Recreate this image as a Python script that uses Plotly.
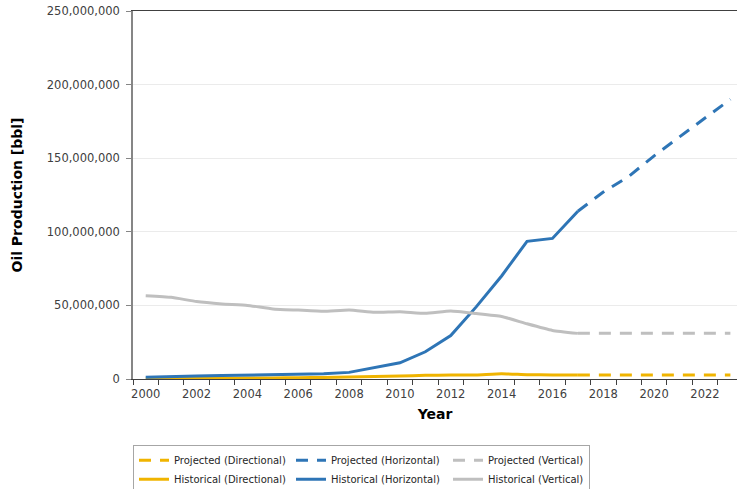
import plotly.graph_objects as go

years_hist = list(range(2000, 2018))
years_proj = list(range(2017, 2024))

hist_directional = [0.2e6, 0.3e6, 0.4e6, 0.5e6, 0.6e6, 0.7e6, 0.9e6, 1.1e6, 1.4e6, 1.7e6,
                    2.0e6, 2.5e6, 2.7e6, 2.8e6, 3.6e6, 2.9e6, 2.8e6, 2.8e6]
hist_horizontal = [1.2e6, 1.8e6, 2.1e6, 2.3e6, 2.7e6, 2.8e6, 3.0e6, 3.5e6, 4.5e6, 7.5e6,
                   11.0e6, 18.5e6, 29.5e6, 49.0e6, 70.0e6, 93.5e6, 95.5e6, 114.0e6]
hist_vertical = [56.6e6, 55.5e6, 52.6e6, 51.0e6, 50.0e6, 47.6e6, 46.8e6, 46.0e6, 46.9e6, 45.3e6,
                 45.7e6, 44.6e6, 46.2e6, 44.5e6, 42.5e6, 37.5e6, 33.0e6, 31.0e6]

proj_directional = [2.8e6, 2.8e6, 2.8e6, 2.8e6, 2.8e6, 2.8e6, 2.8e6]
proj_horizontal = [114.0e6, 127.0e6, 137.6e6, 151.6e6, 164.5e6, 177.5e6, 190.0e6]
proj_vertical = [31.0e6, 31.0e6, 31.0e6, 31.0e6, 31.0e6, 31.0e6, 31.0e6]

x_tick_years = list(range(2000, 2023, 2))
y_tick_vals = [0, 50e6, 100e6, 150e6, 200e6, 250e6]

C_DIR = "#F0B400"
C_HOR = "#2E75B6"
C_VER = "#BFBFBF"
FONT = "DejaVu Sans"
DASH = "12px,9px"

fig = go.Figure()
fig.add_trace(go.Scatter(x=years_proj, y=proj_directional, mode="lines", name="Projected (Directional)",
                         line=dict(color=C_DIR, width=3, dash=DASH)))
fig.add_trace(go.Scatter(x=years_proj, y=proj_horizontal, mode="lines", name="Projected (Horizontal)",
                         line=dict(color=C_HOR, width=3, dash=DASH)))
fig.add_trace(go.Scatter(x=years_proj, y=proj_vertical, mode="lines", name="Projected (Vertical)",
                         line=dict(color=C_VER, width=3, dash=DASH)))
fig.add_trace(go.Scatter(x=years_hist, y=hist_directional, mode="lines", name="Historical (Directional)",
                         line=dict(color=C_DIR, width=3, shape="spline", smoothing=0.4)))
fig.add_trace(go.Scatter(x=years_hist, y=hist_horizontal, mode="lines", name="Historical (Horizontal)",
                         line=dict(color=C_HOR, width=3)))
fig.add_trace(go.Scatter(x=years_hist, y=hist_vertical, mode="lines", name="Historical (Vertical)",
                         line=dict(color=C_VER, width=3, shape="spline", smoothing=0.4)))

fig.update_layout(
    width=737, height=489,
    margin=dict(l=133, r=0, t=11, b=110, autoexpand=False),
    paper_bgcolor="white", plot_bgcolor="white",
    font=dict(family=FONT, size=11.5, color="#404040"),
    showlegend=True,
    legend=dict(orientation="h", x=0, xanchor="left", y=-0.179, yanchor="top",
                bordercolor="#A6A6A6", borderwidth=1, font=dict(size=10, color="#262626"),
                traceorder="normal", itemwidth=30, tracegroupgap=0),
    xaxis=dict(range=[1999.5, 2023.26], tickvals=x_tick_years, ticks="",
               ticklen=0, showgrid=False, zeroline=False, automargin=False,
               showline=True, linecolor="#404040", linewidth=1, mirror=True,
               ticklabelstandoff=4,
               minor=dict(tick0=1999.5, dtick=1, ticks="outside", ticklen=5, tickcolor="#404040", showgrid=False),
               tickfont=dict(size=11.5, color="#404040"),
               title=dict(text="<b>Year</b>", font=dict(size=14, color="#000000"), standoff=9)),
    yaxis=dict(range=[0, 250e6], tickvals=y_tick_vals, tickformat=",d",
               ticks="outside", ticklen=5, tickcolor="#868686", automargin=False,
               ticklabelstandoff=4,
               showgrid=True, gridcolor="#EBEBEB", gridwidth=1, zeroline=False,
               showline=True, linecolor="#868686", linewidth=1.5,
               tickfont=dict(size=11.5, color="#404040"),
               title=dict(text="<b>Oil Production [bbl]</b>", font=dict(size=14, color="#000000"), standoff=21)),
)

fig.write_html("out.html", config={"displayModeBar": False},
               post_script="document.body.style.margin='0px';document.body.style.overflow='hidden';")
